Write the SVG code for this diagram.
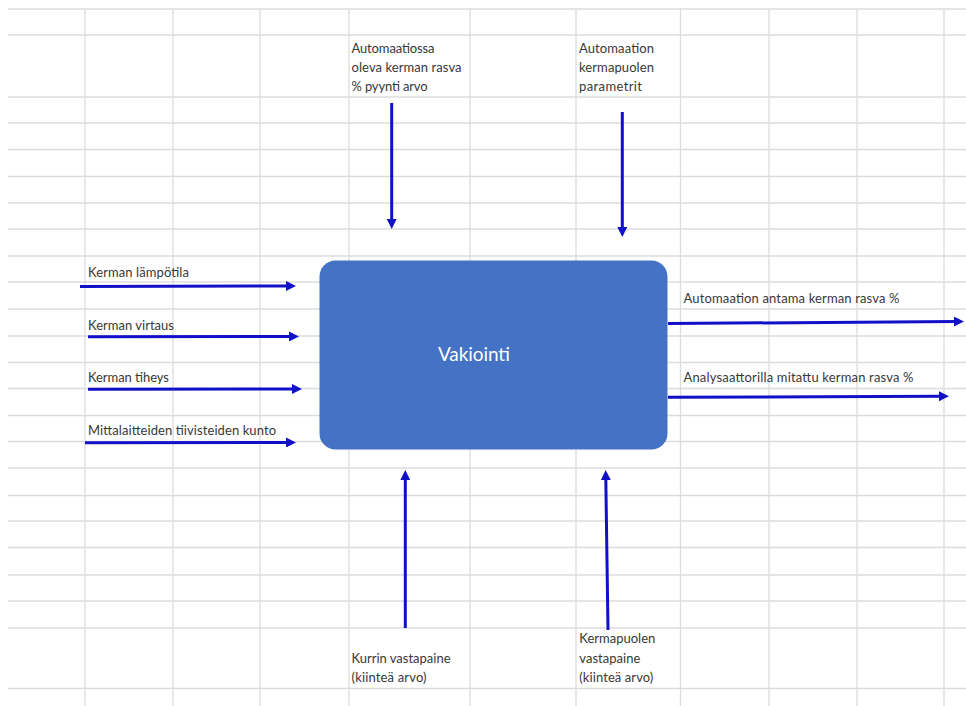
<svg xmlns="http://www.w3.org/2000/svg" width="966" height="706" viewBox="0 0 966 706">
  <style>
    .grid line { stroke: #dcdcdc; stroke-width: 1.3; }
    .lbl { font-family: Lato, "Liberation Sans", Arial, sans-serif; font-size: 13px; fill: #383838; }
    .title { font-family: Lato, "Liberation Sans", Arial, sans-serif; font-size: 19px; fill: #ffffff; }
    .conn { stroke: #1010c8; stroke-width: 3; fill: none; marker-end: url(#head); }
  </style>
  <defs>
    <marker id="head" viewBox="0 0 10 10" refX="2" refY="5" markerWidth="11" markerHeight="10" markerUnits="userSpaceOnUse" orient="auto">
      <path d="M0,0 L10,5 L0,10 Z" fill="#1010c8"/>
    </marker>
  </defs>

  <rect width="966" height="706" fill="#ffffff"/>

  <!-- spreadsheet cell grid -->
  <g class="grid">
    <line x1="8" y1="9" x2="966" y2="9"/>
    <line x1="8" y1="35" x2="966" y2="35"/>
    <line x1="8" y1="97" x2="966" y2="97"/>
    <line x1="8" y1="123" x2="966" y2="123"/>
    <line x1="8" y1="149.5" x2="966" y2="149.5"/>
    <line x1="8" y1="176.5" x2="966" y2="176.5"/>
    <line x1="8" y1="203" x2="966" y2="203"/>
    <line x1="8" y1="229" x2="966" y2="229"/>
    <line x1="8" y1="256" x2="966" y2="256"/>
    <line x1="8" y1="282" x2="966" y2="282"/>
    <line x1="8" y1="309" x2="966" y2="309"/>
    <line x1="8" y1="336" x2="966" y2="336"/>
    <line x1="8" y1="362.5" x2="966" y2="362.5"/>
    <line x1="8" y1="388.5" x2="966" y2="388.5"/>
    <line x1="8" y1="415.5" x2="966" y2="415.5"/>
    <line x1="8" y1="441.5" x2="966" y2="441.5"/>
    <line x1="8" y1="468" x2="966" y2="468"/>
    <line x1="8" y1="495.5" x2="966" y2="495.5"/>
    <line x1="8" y1="521" x2="966" y2="521"/>
    <line x1="8" y1="547.5" x2="966" y2="547.5"/>
    <line x1="8" y1="575" x2="966" y2="575"/>
    <line x1="8" y1="601" x2="966" y2="601"/>
    <line x1="8" y1="628" x2="966" y2="628"/>
    <line x1="8" y1="688.5" x2="966" y2="688.5"/>
    <line x1="85" y1="9" x2="85" y2="706"/>
    <line x1="173" y1="9" x2="173" y2="706"/>
    <line x1="260" y1="9" x2="260" y2="706"/>
    <line x1="349" y1="9" x2="349" y2="706"/>
    <line x1="470" y1="9" x2="470" y2="706"/>
    <line x1="576" y1="9" x2="576" y2="706"/>
    <line x1="680.5" y1="9" x2="680.5" y2="706"/>
    <line x1="769" y1="9" x2="769" y2="706"/>
    <line x1="857" y1="9" x2="857" y2="706"/>
    <line x1="944" y1="9" x2="944" y2="706"/>
  </g>

  <!-- central process -->
  <g id="vakiointi">
    <rect x="319.5" y="260.5" width="348" height="189" rx="16" ry="16" fill="#4472c4"/>
    <text class="title" x="474" y="360.5" text-anchor="middle" textLength="72">Vakiointi</text>
  </g>

  <!-- connectors -->
  <g id="connectors">
    <line class="conn" x1="80" y1="286.5" x2="288" y2="286"/>
    <line class="conn" x1="88" y1="336.7" x2="291" y2="336.5"/>
    <line class="conn" x1="88" y1="389.3" x2="294" y2="389"/>
    <line class="conn" x1="85" y1="442.8" x2="288" y2="442.5"/>
    <line class="conn" x1="668" y1="323.5" x2="956" y2="321.6"/>
    <line class="conn" x1="668" y1="397.3" x2="941" y2="396.2"/>
    <line class="conn" x1="391.7" y1="103" x2="391.7" y2="221"/>
    <line class="conn" x1="622.3" y1="112" x2="622.3" y2="229"/>
    <line class="conn" x1="405.3" y1="628" x2="405.3" y2="478"/>
    <line class="conn" x1="608" y1="630" x2="605.8" y2="478"/>
  </g>

  <!-- inputs and outputs -->
  <g id="in-pyyntiarvo">
    <text class="lbl" x="351.5" y="52.5" textLength="83">Automaatiossa</text>
    <text class="lbl" x="351.5" y="71.8" textLength="110">oleva kerman rasva</text>
    <text class="lbl" x="351.5" y="91.2" textLength="76">% pyynti arvo</text>
  </g>
  <g id="in-parametrit">
    <text class="lbl" x="579" y="52.5" textLength="75">Automaation</text>
    <text class="lbl" x="579" y="71.8" textLength="75">kermapuolen</text>
    <text class="lbl" x="579" y="91.2" textLength="63">parametrit</text>
  </g>
  <g id="in-lampotila">
    <text class="lbl" x="88" y="276.5" textLength="101">Kerman lämpötila</text>
  </g>
  <g id="in-virtaus">
    <text class="lbl" x="88" y="330" textLength="86">Kerman virtaus</text>
  </g>
  <g id="in-tiheys">
    <text class="lbl" x="88" y="381.5" textLength="81">Kerman tiheys</text>
  </g>
  <g id="in-tiivisteet">
    <text class="lbl" x="88" y="435" textLength="188">Mittalaitteiden tiivisteiden kunto</text>
  </g>
  <g id="out-automaatio">
    <text class="lbl" x="683.5" y="302.5" textLength="216">Automaation antama kerman rasva %</text>
  </g>
  <g id="out-analysaattori">
    <text class="lbl" x="683.5" y="382" textLength="230">Analysaattorilla mitattu kerman rasva %</text>
  </g>
  <g id="in-kurri">
    <text class="lbl" x="351.5" y="662.5" textLength="99">Kurrin vastapaine</text>
    <text class="lbl" x="351.5" y="681.5" textLength="75">(kiinteä arvo)</text>
  </g>
  <g id="in-kermapuoli">
    <text class="lbl" x="579.3" y="643" textLength="76">Kermapuolen</text>
    <text class="lbl" x="579.3" y="662.5" textLength="61">vastapaine</text>
    <text class="lbl" x="579.3" y="681.5" textLength="74">(kiinteä arvo)</text>
  </g>
</svg>
